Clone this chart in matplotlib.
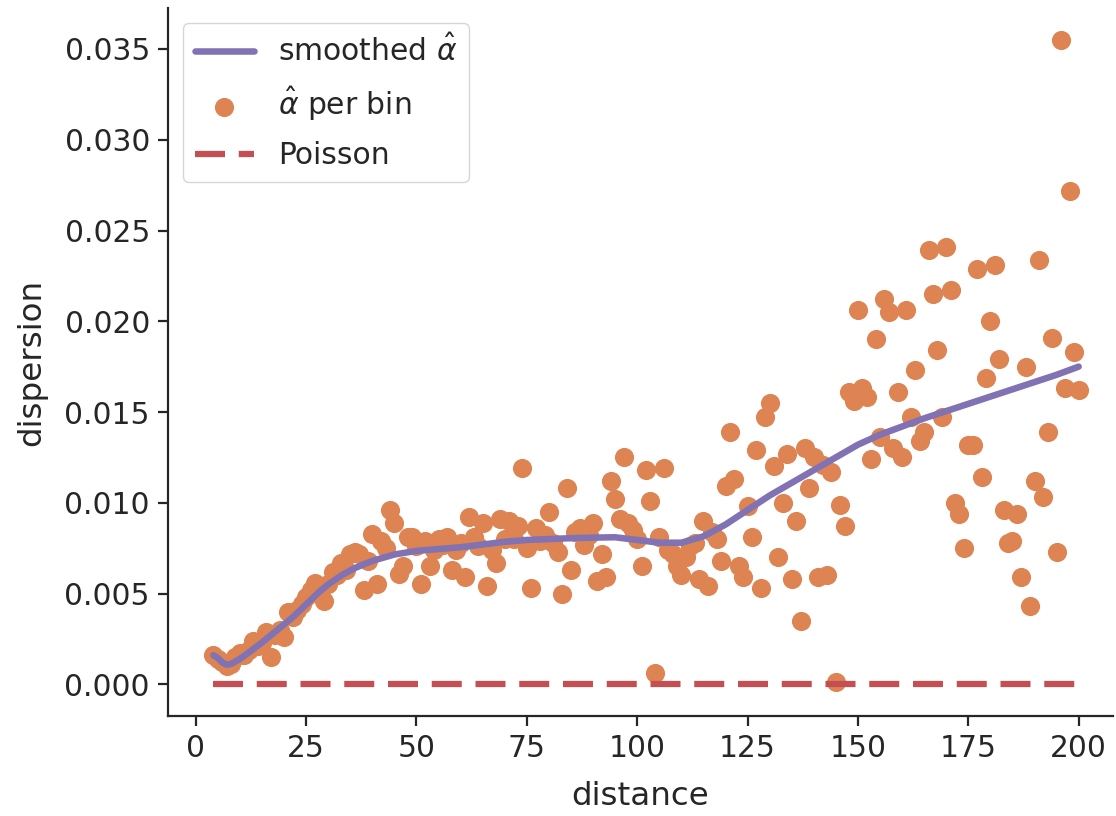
import matplotlib
matplotlib.use("Agg")
import matplotlib.pyplot as plt
import seaborn as sns

sns.set_theme(style="ticks")
plt.rcParams['font.family'] = ['DejaVu Sans']

# per-bin dispersion estimates
bin_x = list(range(4, 201))
bin_alpha = [
    0.0016, 0.0014, 0.0012, 0.0010, 0.0011, 0.0015, 0.0017, 0.0016, 0.0019, 0.0024,  # 4-13
    0.0021, 0.0023, 0.0029, 0.0015, 0.0027, 0.0030, 0.0026, 0.0040, 0.0037, 0.0041,  # 14-23
    0.0044, 0.0048, 0.0052, 0.0056, 0.0050, 0.0046, 0.0055, 0.0062, 0.0060, 0.0067,  # 24-33
    0.0063, 0.0072, 0.0073, 0.0072, 0.0052, 0.0068, 0.0083, 0.0055, 0.0079, 0.0075,  # 34-43
    0.0096, 0.0089, 0.0061, 0.0065, 0.0081, 0.0081, 0.0076, 0.0055, 0.0079, 0.0065,  # 44-53
    0.0074, 0.0080, 0.0077, 0.0081, 0.0063, 0.0074, 0.0078, 0.0059, 0.0092, 0.0081,  # 54-63
    0.0076, 0.0089, 0.0054, 0.0074, 0.0067, 0.0091, 0.0080, 0.0090, 0.0080, 0.0087,  # 64-73
    0.0119, 0.0075, 0.0053, 0.0086, 0.0079, 0.0082, 0.0095, 0.0078, 0.0073, 0.0050,  # 74-83
    0.0108, 0.0063, 0.0084, 0.0086, 0.0077, 0.0082, 0.0089, 0.0057, 0.0072, 0.0059,  # 84-93
    0.0112, 0.0102, 0.0091, 0.0125, 0.0089, 0.0085, 0.0080, 0.0065, 0.0118, 0.0101,  # 94-103
    0.0006, 0.0081, 0.0119, 0.0074, 0.0072, 0.0065, 0.0060, 0.0070, 0.0076, 0.0078,  # 104-113
    0.0058, 0.0090, 0.0054, 0.0084, 0.0080, 0.0068, 0.0109, 0.0139, 0.0113, 0.0065,  # 114-123
    0.0059, 0.0098, 0.0081, 0.0129, 0.0053, 0.0147, 0.0155, 0.0120, 0.0070, 0.0100,  # 124-133
    0.0127, 0.0058, 0.0090, 0.0035, 0.0130, 0.0108, 0.0125, 0.0059, 0.0121, 0.0060,  # 134-143
    0.0117, 0.0001, 0.0099, 0.0087, 0.0161, 0.0156, 0.0206, 0.0163, 0.0158, 0.0124,  # 144-153
    0.0190, 0.0136, 0.0212, 0.0205, 0.0130, 0.0161, 0.0125, 0.0206, 0.0147, 0.0173,  # 154-163
    0.0134, 0.0139, 0.0239, 0.0215, 0.0184, 0.0147, 0.0241, 0.0217, 0.0100, 0.0094,  # 164-173
    0.0075, 0.0132, 0.0132, 0.0229, 0.0114, 0.0169, 0.0200, 0.0231, 0.0179, 0.0096,  # 174-183
    0.0078, 0.0079, 0.0094, 0.0059, 0.0175, 0.0043, 0.0112, 0.0234, 0.0103, 0.0139,  # 184-193
    0.0191, 0.0073, 0.0355, 0.0163, 0.0272, 0.0183, 0.0162,                          # 194-200
]

# smoothed curve
smooth_x = [4, 5, 6, 7, 8, 10, 12, 15, 18, 20, 22, 25, 28, 30, 33, 36, 40, 45, 50, 55, 60,
            65, 70, 75, 80, 85, 90, 95, 100, 105, 110, 115, 120, 125, 130, 135, 140,
            145, 150, 155, 160, 165, 170, 175, 180, 185, 190, 195, 200]
smooth_alpha = [0.00160, 0.00145, 0.00120, 0.00108, 0.00112, 0.00140, 0.00175, 0.00230,
                0.00290, 0.00330, 0.00370, 0.00440, 0.00510, 0.00550, 0.00600, 0.00640,
                0.00680, 0.00715, 0.00735, 0.00745, 0.00755, 0.00770, 0.00785, 0.00795,
                0.00800, 0.00805, 0.00808, 0.00810, 0.00795, 0.00780, 0.00780, 0.00815,
                0.00880, 0.00960, 0.01040, 0.01110, 0.01180, 0.01250, 0.01320, 0.01375,
                0.01420, 0.01465, 0.01505, 0.01545, 0.01585, 0.01625, 0.01665, 0.01705,
                0.01750]

poisson_x = [4, 200]
poisson_alpha = [0.0, 0.0]

x_ticks = [0, 25, 50, 75, 100, 125, 150, 175, 200]
y_ticks = [0.0, 0.005, 0.01, 0.015, 0.02, 0.025, 0.03, 0.035]
y_ticklabels = ["0.000", "0.005", "0.010", "0.015", "0.020", "0.025", "0.030", "0.035"]

pal = sns.color_palette("deep")

fig = plt.figure(figsize=(11.16, 8.16), dpi=100)
ax = fig.add_axes([0.1505, 0.1225, 0.8465, 0.8675])

ax.plot(smooth_x, smooth_alpha, color=pal[4], lw=4.7, label=r"smoothed $\hat{\alpha}$", zorder=3)
ax.scatter(bin_x, bin_alpha, color=pal[1], s=190, linewidths=0, label=r"$\hat{\alpha}$ per bin", zorder=2)
ax.plot(poisson_x, poisson_alpha, color=pal[3], lw=4.5, ls=(0, (4.8, 2.2)), label="Poisson", zorder=4)

ax.set_xlim(-6.3, 207.7)
ax.set_ylim(-0.00175, 0.03725)

ax.set_xlabel("distance", fontsize=23.4, labelpad=13)
ax.set_ylabel("dispersion", fontsize=23.4, labelpad=12)
ax.tick_params(axis="both", labelsize=21.4, length=7, width=1.6, pad=6)
for s in ["left", "bottom"]:
    ax.spines[s].set_linewidth(1.6)
sns.despine(ax=ax)

ax.set_xticks(x_ticks)
ax.set_yticks(y_ticks)
ax.set_yticklabels(y_ticklabels)

ax.legend(loc="upper left", fontsize=21.4, frameon=True, borderaxespad=0.5, labelspacing=0.6)

fig.savefig("out.png", dpi=100)
